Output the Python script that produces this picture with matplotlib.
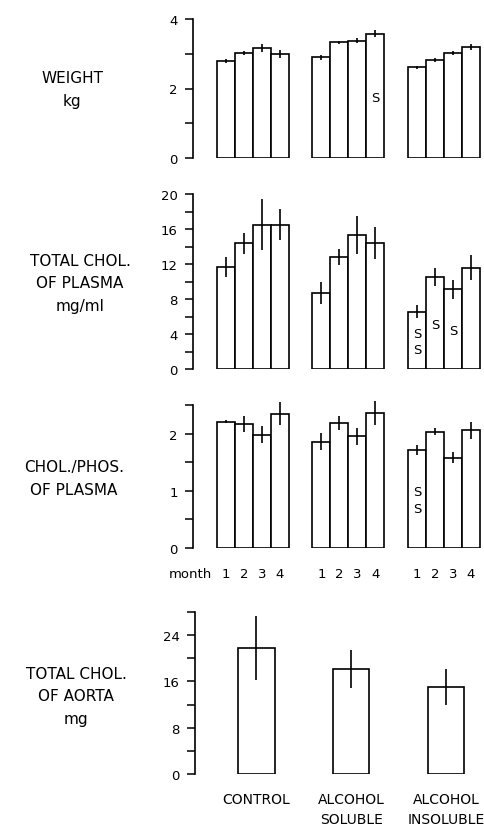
import matplotlib

matplotlib.use("Agg")
import matplotlib.pyplot as plt
import matplotlib.transforms as mtransforms

plt.rcParams["font.family"] = ["DejaVu Sans"]

groups = ["CONTROL", "ALCOHOL\nSOLUBLE", "ALCOHOL\nINSOLUBLE"]
months = ["1", "2", "3", "4"]

# weight, kg (mean, error) per group x month
weight = [[2.79, 3.02, 3.16, 2.99],
          [2.90, 3.33, 3.37, 3.57],
          [2.61, 2.83, 3.02, 3.19]]
weight_err = [[0.07, 0.07, 0.12, 0.12],
              [0.07, 0.05, 0.07, 0.10],
              [0.04, 0.06, 0.07, 0.08]]

# total cholesterol of plasma, mg/ml
plasma_chol = [[11.7, 14.4, 16.5, 16.5],
               [8.7, 12.8, 15.3, 14.4],
               [6.55, 10.5, 9.1, 11.6]]
plasma_chol_err = [[1.15, 1.2, 2.9, 1.75],
                   [1.25, 0.95, 2.2, 1.8],
                   [0.75, 1.05, 1.1, 1.45]]

# cholesterol / phospholipid ratio of plasma
chol_phos = [[2.21, 2.17, 1.98, 2.35],
             [1.86, 2.18, 1.95, 2.36],
             [1.71, 2.03, 1.58, 2.06]]
chol_phos_err = [[0.03, 0.14, 0.15, 0.2],
                 [0.15, 0.12, 0.15, 0.21],
                 [0.09, 0.06, 0.1, 0.15]]

# total cholesterol of aorta, mg
aorta = [21.8, 18.2, 15.0]
aorta_err = [5.5, 3.3, 3.1]

# significance marks: (group, month, y)
weight_sig = [(1, 3, 1.75)]
plasma_sig = [(2, 0, 4.0), (2, 0, 2.2), (2, 1, 5.1), (2, 2, 4.4)]
phos_sig = [(2, 0, 0.98), (2, 0, 0.69)]

W, H = 484, 828
fig = plt.figure(figsize=(W / 100, H / 100), dpi=100)
fig.patch.set_facecolor("white")

GROUP_STEP = 5.3
BAR_W = 1.0
TICK_FS = 9.5
LABEL_FS = 11


def add_panel(top, bottom, left=193, right=484):
    return fig.add_axes([left / W, 1 - bottom / H, (right - left) / W, (bottom - top) / H])


def style_axis(ax, ylim, major, minor):
    ax.set_ylim(*ylim)
    ax.set_yticks(major)
    ax.set_yticks(minor, minor=True)
    ax.set_yticklabels([f"{v:g}" for v in major])
    for s in ["top", "right", "bottom"]:
        ax.spines[s].set_visible(False)
    ax.spines["left"].set_linewidth(1.2)
    ax.tick_params(axis="y", which="both", direction="out", length=6, width=1.1,
                   labelsize=TICK_FS, pad=5)
    ax.tick_params(axis="x", length=0)
    ax.set_xticks([])


def monthly_panel(ax, vals, errs, ylim, major, minor, sig):
    ax.set_xlim(-1.83, 14.33)
    for g in range(len(vals)):
        xs = [g * GROUP_STEP + m for m in range(len(months))]
        ax.bar(xs, vals[g], width=BAR_W, color="white", edgecolor="black",
               linewidth=1.2, zorder=2)
        ax.errorbar(xs, vals[g], yerr=errs[g], fmt="none", ecolor="black",
                    elinewidth=1.2, capsize=0, zorder=3, clip_on=False)
    for g, m, y in sig:
        ax.text(g * GROUP_STEP + m, y, "S", ha="center", va="center",
                fontsize=TICK_FS, zorder=4)
    style_axis(ax, ylim, major, minor)


ax1 = add_panel(20, 159)
monthly_panel(ax1, weight, weight_err, (0, 4), [0, 2, 4], [1, 3], weight_sig)

ax2 = add_panel(195, 370)
monthly_panel(ax2, plasma_chol, plasma_chol_err, (0, 20),
              [0, 4, 8, 12, 16, 20], [2, 6, 10, 14, 18], plasma_sig)

ax3 = add_panel(406, 549)
monthly_panel(ax3, chol_phos, chol_phos_err, (0, 2.5), [0, 1, 2],
              [0.5, 1.5, 2.5], phos_sig)
# month numbers under the bars
trans3 = mtransforms.blended_transform_factory(ax3.transData, ax3.transAxes)
for g in range(len(groups)):
    for m, lab in enumerate(months):
        ax3.text(g * GROUP_STEP + m, -0.18, lab, transform=trans3, ha="center",
                 va="center", fontsize=TICK_FS)
ax3.text(-0.75, -0.18, "month", transform=trans3, ha="right", va="center",
         fontsize=TICK_FS)

ax4 = add_panel(613, 775, left=195)
ax4.set_xlim(-1.83, 14.33)
cx = [g * GROUP_STEP + 1.6 for g in range(len(groups))]
ax4.bar(cx, aorta, width=2.05, color="white", edgecolor="black", linewidth=1.2,
        zorder=2)
ax4.errorbar(cx, aorta, yerr=aorta_err, fmt="none", ecolor="black",
             elinewidth=1.2, capsize=0, zorder=3)
style_axis(ax4, (0, 28), [0, 8, 16, 24], [4, 12, 20, 28])
trans4 = mtransforms.blended_transform_factory(ax4.transData, ax4.transAxes)
for x, lab in zip(cx, groups):
    ax4.text(x, -0.11, lab, transform=trans4, ha="center", va="top",
             fontsize=10, linespacing=1.6)

# row labels on the left
row_labels = [
    ("WEIGHT\nkg", 72, 90),
    ("TOTAL CHOL.\nOF PLASMA\nmg/ml", 80, 284),
    ("CHOL./PHOS.\nOF PLASMA", 74, 479),
    ("TOTAL CHOL.\nOF AORTA\nmg", 76, 697),
]
for text, x, y in row_labels:
    fig.text(x / W, 1 - y / H, text, ha="center", va="center", fontsize=LABEL_FS,
             linespacing=1.6, multialignment="center")

fig.savefig("out.png", dpi=100, facecolor="white")
